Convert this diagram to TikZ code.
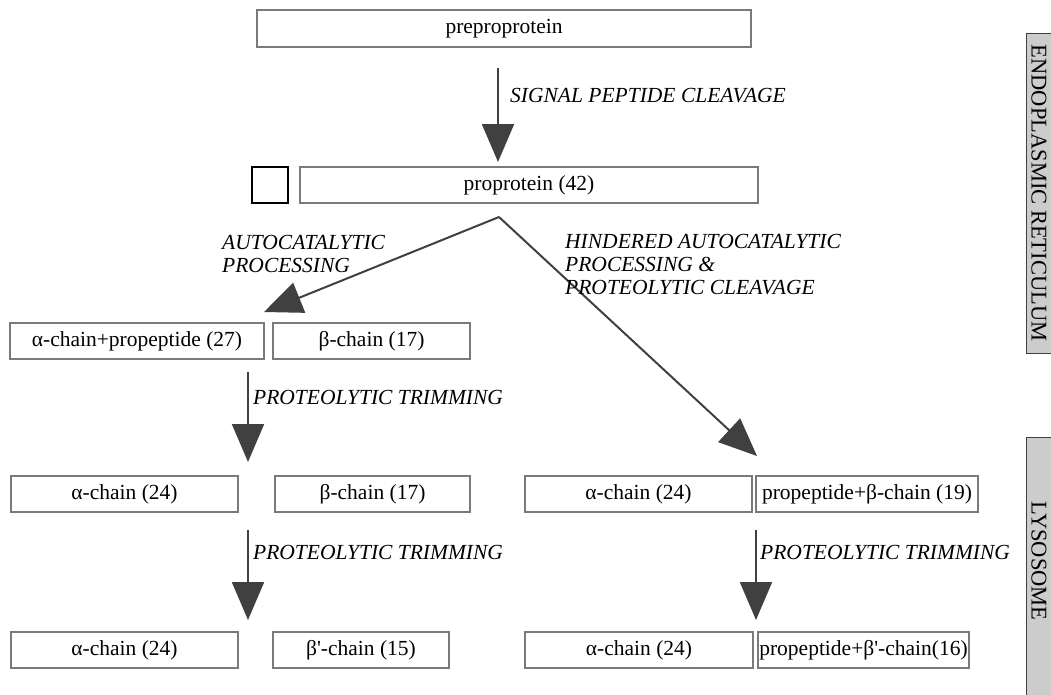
\documentclass[tikz,border=0pt]{standalone}
\usepackage{fontspec}
\setmainfont{Liberation Serif}
\usetikzlibrary{arrows.meta}
\definecolor{boxgray}{HTML}{7A7A7A}
\definecolor{arrowgray}{HTML}{404040}
\definecolor{bargray}{HTML}{CCCCCC}
\tikzset{
  box/.style={draw=boxgray, line width=2pt, inner sep=0pt, minimum height=36pt,
    font=\fontsize{21.5}{25}\selectfont},
  tag/.style={anchor=west, inner sep=0pt, align=left,
    font=\fontsize{21.5}{23}\selectfont\itshape},
  flow/.style={draw=arrowgray, line width=2pt, -{Triangle[length=38pt,width=32pt]}},
  bar/.style={draw=arrowgray, fill=bargray, line width=1pt},
  side/.style={rotate=-90, inner sep=0pt, font=\fontsize{22.5}{25}\selectfont},
}
\begin{document}
\begin{tikzpicture}[x=1pt,y=-1pt]
\useasboundingbox (0,0) rectangle (1051,694);
% compartments
\draw [bar] (1026,33) rectangle (1070,353);
\draw [bar] (1026,437) rectangle (1070,710);
\node [side] (er) at (1039,193) {ENDOPLASMIC RETICULUM};
\node [side] (lys) at (1039,561) {LYSOSOME};
% precursors
\node [box, minimum width=494pt, minimum height=37pt] (pre) at (504,28.5) {preproprotein};
\node [draw, line width=2pt, minimum width=36pt, minimum height=36pt, inner sep=0pt] (sq) at (270,185) {};
\node [box, minimum width=458pt] (pro) at (529,185) {proprotein (42)};
% first cleavage products
\node [box, minimum width=254pt] (acp) at (137,341) {α-chain+propeptide (27)};
\node [box, minimum width=197pt] (bc) at (371.5,341) {β-chain (17)};
% trimmed, left branch
\node [box, minimum width=227pt] (ac) at (124.5,494) {α-chain (24)};
\node [box, minimum width=195pt] (bt) at (372.5,494) {β-chain (17)};
\node [box, minimum width=227pt] (af) at (124.5,650) {α-chain (24)};
\node [box, minimum width=176pt] (bp) at (361,650) {β\textquotesingle-chain (15)};
% right branch
\node [box, minimum width=227pt] (ar) at (638.5,494) {α-chain (24)};
\node [box, minimum width=222pt] (pb) at (867,494) {propeptide+β-chain (19)};
\node [box, minimum width=228pt] (arf) at (639,650) {α-chain (24)};
\node [box, minimum width=211pt] (pbp) at (863.5,650) {propeptide+β\textquotesingle-chain(16)};
% arrows
\coordinate (s0) at (498,68);
\coordinate (s1) at (498,162);
\coordinate (fork) at (499,217);
\coordinate (lt) at (264,312);
\coordinate (rt) at (757,456);
\coordinate (t0) at (248,372);
\coordinate (t1) at (248,462);
\coordinate (u0) at (248,530);
\coordinate (u1) at (248,620);
\coordinate (v0) at (756,530);
\coordinate (v1) at (756,620);
\draw [flow] (s0) -- (s1);
\draw [flow] (fork) -- (lt);
\draw [flow] (fork) -- (rt);
\draw [flow] (t0) -- (t1);
\draw [flow] (u0) -- (u1);
\draw [flow] (v0) -- (v1);
% labels
\node [tag] (sig) at (510,96) {SIGNAL PEPTIDE CLEAVAGE};
\node [tag] (auto) at (222,253.5) {AUTOCATALYTIC\\PROCESSING};
\node [tag] (hind) at (565,265) {HINDERED AUTOCATALYTIC\\PROCESSING \&\\PROTEOLYTIC CLEAVAGE};
\node [tag] (trim1) at (253,397) {PROTEOLYTIC TRIMMING};
\node [tag] (trim2) at (253,552) {PROTEOLYTIC TRIMMING};
\node [tag] (trim3) at (760,552) {PROTEOLYTIC TRIMMING};
\end{tikzpicture}
\end{document}
